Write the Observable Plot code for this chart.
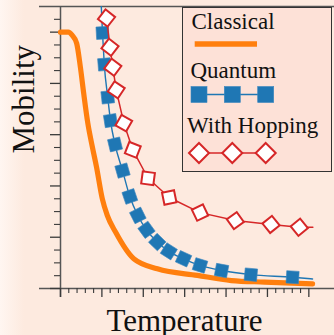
<!DOCTYPE html>
<html>
<head>
<meta charset="utf-8">
<script src="https://cdn.jsdelivr.net/npm/d3@7"></script>
<script src="https://cdn.jsdelivr.net/npm/@observablehq/plot@0.6"></script>
<style>
  html, body { margin: 0; padding: 0; }
  body {
    width: 334px; height: 335px; overflow: hidden;
    background: linear-gradient(to right, #fff6f1 0px, #fdeadf 24px, #fdeadf 100%);
    font-family: "Liberation Serif", serif;
  }
  #chart { position: relative; width: 334px; height: 335px; }
  #chart svg.plot-main { position: absolute; left: 0; top: 0; }
  #legend {
    position: absolute; left: 182px; top: 7px; width: 150px; height: 165px;
    box-sizing: border-box; border: 1.5px solid #333; background: #fde1d7;
  }
  #legend svg { position: absolute; left: -1.5px; top: -1.5px; overflow: visible; }
  #legend .lab {
    position: absolute; font-family: "Liberation Serif", serif; font-size: 23px;
    line-height: 1; color: #111; white-space: nowrap;
  }
</style>
</head>
<body>
<div id="chart"></div>
<script>
// ---- data ----
const seriesNames = ["Classical", "Quantum", "With Hopping"];
const axisLabels = {x: "Temperature", y: "Mobility"};

const classicalX = [0, 0.19, 0.28, 0.39, 0.48, 0.56, 0.66, 0.77, 0.87, 1.01, 1.13, 1.33, 1.77, 2.34, 3.31, 4.13, 4.93, 6.09];
const classicalY = [1.0, 1.0, 0.988, 0.957, 0.864, 0.762, 0.645, 0.552, 0.474, 0.350, 0.285, 0.220, 0.116, 0.077, 0.051, 0.031, 0.025, 0.018];

const quantumX = [1.015, 1.058, 1.141, 1.208, 1.317, 1.498, 1.675, 1.868, 2.078, 2.337, 2.617, 2.973, 3.371, 3.891, 4.599, 5.607];
const quantumY = [0.997, 0.874, 0.746, 0.655, 0.562, 0.460, 0.359, 0.285, 0.229, 0.181, 0.145, 0.116, 0.090, 0.070, 0.054, 0.044];
const quantumLineStart = [0.979, 1.123];
const quantumLineEnd = [6.09, 0.037];

const hoppingX = [1.112, 1.196, 1.264, 1.346, 1.530, 1.747, 2.115, 2.627, 3.371, 4.224, 5.087, 5.769];
const hoppingY = [1.055, 0.941, 0.863, 0.775, 0.645, 0.541, 0.430, 0.355, 0.296, 0.265, 0.250, 0.239];
const hoppingLineEnd = [6.097, 0.239];

const xMajorTicks = [0, 1, 2, 3, 4, 5, 6];
const xMinorTicks = d3.range(0, 30).map(i => i / 5).filter(v => v <= 6 && Math.abs(v - Math.round(v)) > 1e-6);
const yMajorTicks = [0, 0.2, 0.4, 0.6, 0.8, 1.0];
const yMinorTicks = d3.range(1, 22).map(i => +(i * 0.05).toFixed(2)).filter(v => Math.abs(v * 5 - Math.round(v * 5)) > 1e-6);

// ---- layout ----
const W = 334, H = 335, ML = 60, MR = 0, MT = 6, MB = 47;
const xDomain = [0, 6.62], yDomain = [0, 1.1];
const colors = {classical: "#ff7f0e", quantum: "#1f77b4", hopping: "#d62728"};

const sx = Plot.scale({x: {domain: xDomain, range: [ML, W - MR]}});
const sy = Plot.scale({y: {domain: yDomain, range: [H - MB, MT]}});

function tangentAngles(xs, ys) {
  return xs.map((_, i) => {
    const a = Math.max(0, i - 1), b = Math.min(xs.length - 1, i + 1);
    const dx = sx.apply(xs[b]) - sx.apply(xs[a]);
    const dy = sy.apply(ys[b]) - sy.apply(ys[a]);
    return Math.atan2(dy, dx) * 180 / Math.PI;
  });
}

const classical = classicalX.map((x, i) => ({x, y: classicalY[i]}));
const qAng = tangentAngles(quantumX, quantumY);
const quantum = quantumX.map((x, i) => ({x, y: quantumY[i], rot: qAng[i]}));
const quantumLine = [{x: quantumLineStart[0], y: quantumLineStart[1]}, ...quantum, {x: quantumLineEnd[0], y: quantumLineEnd[1]}];
const hAng = tangentAngles(hoppingX, hoppingY);
const hopping = hoppingX.map((x, i) => ({x, y: hoppingY[i], rot: hAng[i] + 45}));
const hoppingLine = [...hopping, {x: hoppingLineEnd[0], y: hoppingLineEnd[1]}];

const axisColor = "#555", tickColor = "#3a3a3a";

const plot = Plot.plot({
  width: W, height: H,
  marginLeft: ML, marginRight: MR, marginTop: MT, marginBottom: MB,
  style: {background: "transparent", overflow: "visible"},
  x: {domain: xDomain, axis: null},
  y: {domain: yDomain, axis: null},
  marks: [
    // axis lines
    Plot.ruleY([0], {stroke: axisColor, strokeWidth: 1.5, insetLeft: -21}),
    Plot.ruleY([yDomain[1]], {stroke: axisColor, strokeWidth: 1.6, insetLeft: -21}),
    Plot.ruleX([0], {stroke: axisColor, strokeWidth: 1.5, insetBottom: -9}),
    // ticks
    Plot.axisX(xMajorTicks, {anchor: "bottom", tickSize: 9, tickFormat: () => "", label: null, stroke: tickColor, strokeWidth: 1.3}),
    Plot.axisX(xMinorTicks, {anchor: "bottom", tickSize: 5, tickFormat: () => "", label: null, stroke: tickColor, strokeWidth: 1.1}),
    Plot.axisY(yMajorTicks, {anchor: "left", tickSize: 10, tickFormat: () => "", label: null, stroke: tickColor, strokeWidth: 1.3}),
    Plot.axisY(yMinorTicks, {anchor: "left", tickSize: 6, tickFormat: () => "", label: null, stroke: tickColor, strokeWidth: 1.1}),
    // series
    Plot.line(classical, {x: "x", y: "y", stroke: colors.classical, strokeWidth: 5.2, curve: "monotone-x"}),
    Plot.line(quantumLine, {x: "x", y: "y", stroke: colors.quantum, strokeWidth: 1.4, curve: "monotone-x", clip: true}),
    Plot.dot(quantum, {x: "x", y: "y", symbol: "square", r: 7, rotate: "rot", fill: colors.quantum, stroke: "#3b87bf", strokeWidth: 0.6}),
    Plot.line(hoppingLine, {x: "x", y: "y", stroke: colors.hopping, strokeWidth: 1.5}),
    Plot.dot(hopping, {x: "x", y: "y", symbol: "square", r: 6.9, rotate: "rot", fill: "white", stroke: colors.hopping, strokeWidth: 2}),
    // axis labels
    Plot.text([axisLabels.x], {frameAnchor: "bottom", lineAnchor: "bottom", dy: 42, dx: -13, fontSize: 31, fontFamily: "Liberation Serif", fill: "#111"}),
    Plot.text([axisLabels.y], {frameAnchor: "left", lineAnchor: "bottom", rotate: -90, dx: -27, dy: 6, fontSize: 31, fontFamily: "Liberation Serif", fill: "#111"})
  ]
});
plot.classList.add("plot-main");
const chart = document.getElementById("chart");
chart.appendChild(plot);

// ---- legend ----
const legend = d3.select(chart).append("div").attr("id", "legend");
const lsvg = legend.append("svg").attr("width", 150).attr("height", 165);
const lx = [17, 50.3, 83.7];
lsvg.append("line").attr("x1", 12.7).attr("x2", 75).attr("y1", 37).attr("y2", 37)
  .attr("stroke", colors.classical).attr("stroke-width", 5.5);
lsvg.append("line").attr("x1", lx[0]).attr("x2", lx[2]).attr("y1", 87.5).attr("y2", 87.5)
  .attr("stroke", colors.quantum).attr("stroke-width", 1.5);
lx.forEach(x => lsvg.append("rect").attr("x", x - 8).attr("y", 87.5 - 8).attr("width", 16).attr("height", 16)
  .attr("fill", colors.quantum).attr("stroke", "#3b87bf").attr("stroke-width", 0.6));
lsvg.append("line").attr("x1", lx[0]).attr("x2", lx[2]).attr("y1", 146).attr("y2", 146)
  .attr("stroke", colors.hopping).attr("stroke-width", 1.5);
lx.forEach(x => lsvg.append("path")
  .attr("d", `M${x},${146 - 10}L${x + 10},146L${x},${146 + 10}L${x - 10},146Z`)
  .attr("fill", "white").attr("stroke", colors.hopping).attr("stroke-width", 2));
// labels as HTML text (baseline = top + ~19.3px at 23px, line-height 1)
const labelPos = [[8.5, 21], [7.5, 70], [4, 125]];
seriesNames.forEach((name, i) => legend.append("div").attr("class", "lab")
  .style("left", labelPos[i][0] + "px").style("top", (labelPos[i][1] - 19.3) + "px").text(name));
</script>
</body>
</html>
